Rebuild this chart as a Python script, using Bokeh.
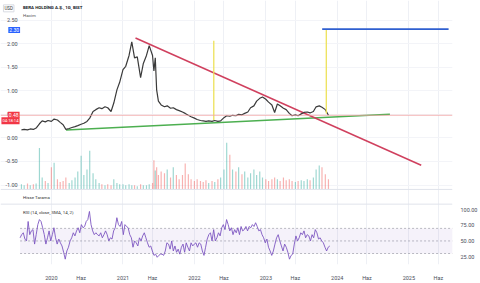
import pandas as pd
from bokeh.plotting import figure
from bokeh.models import (Range1d, LinearAxis, FixedTicker, CustomJSTickFormatter,
                          NumeralTickFormatter, Grid, Span, Label, ColumnDataSource,
                          BoxAnnotation)
from bokeh.core.properties import value
from bokeh.embed import file_html
from bokeh.resources import INLINE

# ---------------- data ----------------
price_dates = [
    "2019-08-01", "2019-08-15", "2019-09-01", "2019-09-15", "2019-10-01", "2019-10-15",
    "2019-11-01", "2019-11-15", "2019-12-01", "2019-12-15",
    "2020-01-01", "2020-01-15", "2020-02-01", "2020-02-15", "2020-03-01", "2020-03-15",
    "2020-04-01", "2020-04-15", "2020-05-01", "2020-05-15", "2020-06-01", "2020-06-15",
    "2020-07-01", "2020-07-15", "2020-08-01", "2020-08-15", "2020-09-01", "2020-09-15",
    "2020-10-01", "2020-10-15", "2020-11-01", "2020-11-15", "2020-12-01", "2020-12-15",
    "2021-01-01", "2021-01-15", "2021-02-01", "2021-02-15", "2021-03-01", "2021-03-15",
    "2021-04-01", "2021-04-15", "2021-05-01", "2021-05-15", "2021-06-01", "2021-06-08",
    "2021-06-15", "2021-06-22", "2021-07-01", "2021-07-15", "2021-08-01", "2021-08-15",
    "2021-09-01", "2021-09-15", "2021-10-01", "2021-10-15", "2021-11-01", "2021-11-15",
    "2021-12-01", "2021-12-15",
    "2022-01-01", "2022-01-15", "2022-02-01", "2022-02-15", "2022-03-01", "2022-03-15",
    "2022-04-01", "2022-04-15", "2022-05-01", "2022-05-15", "2022-06-01", "2022-06-15",
    "2022-07-01", "2022-07-15", "2022-08-01", "2022-08-15", "2022-09-01", "2022-09-15",
    "2022-10-01", "2022-10-15", "2022-11-01", "2022-11-15", "2022-12-01", "2022-12-15",
    "2023-01-01", "2023-01-15", "2023-02-01", "2023-02-15", "2023-03-01", "2023-03-15",
    "2023-04-01", "2023-04-15", "2023-05-01", "2023-05-15", "2023-06-01", "2023-06-15",
    "2023-07-01", "2023-07-15", "2023-08-01", "2023-08-15", "2023-09-01", "2023-09-15",
    "2023-10-01", "2023-10-15", "2023-11-01", "2023-11-17",
]
price_close = [
    0.17, 0.18, 0.17, 0.19, 0.18, 0.21, 0.30, 0.36, 0.34, 0.37,
    0.35, 0.40, 0.38, 0.33, 0.28, 0.18, 0.20, 0.22, 0.24, 0.26, 0.29, 0.31,
    0.35, 0.42, 0.56, 0.60, 0.64, 0.62, 0.66, 0.64, 0.56, 0.74, 1.02, 1.18,
    1.45, 1.52, 1.75, 2.04, 1.70, 1.72, 1.28, 1.58, 1.75, 1.96, 1.75, 1.42,
    1.70, 1.02, 0.78, 0.70, 0.66, 0.68, 0.63, 0.64, 0.60, 0.58, 0.55, 0.52,
    0.48, 0.45,
    0.42, 0.39, 0.37, 0.36, 0.35, 0.36, 0.35, 0.37, 0.35, 0.36, 0.43, 0.47,
    0.46, 0.48, 0.47, 0.50, 0.49, 0.52, 0.55, 0.64, 0.68, 0.78, 0.84, 0.87,
    0.82, 0.76, 0.70, 0.54, 0.72, 0.68, 0.63, 0.60, 0.52, 0.47, 0.49, 0.47,
    0.51, 0.54, 0.55, 0.53, 0.56, 0.66, 0.68, 0.65, 0.60, 0.48,
]
volume_m = [
    10, 8, 12, 8, 10, 12, 89, 25, 17, 13,
    47, 57, 21, 15, 17, 25, 13, 19, 25, 38, 72, 30, 42, 83, 34, 21, 13, 10, 8, 10, 8, 21, 13, 10,
    10, 8, 10, 8, 8, 6, 10, 8, 8, 10, 13, 62, 40, 47, 30, 38, 34, 42, 25, 47, 30, 21, 30, 55, 32, 21,
    17, 21, 17, 15, 19, 13, 17, 15, 21, 25, 42, 100, 74, 42, 38, 47, 32, 38, 25, 34, 42, 30, 38, 25,
    21, 17, 21, 25, 21, 17, 25, 19, 21, 17, 15, 17, 19, 17, 21, 19, 25, 42, 51, 47, 32, 21,
]
rsi_values = [
    55, 60, 63, 53, 50, 81, 60, 66, 68, 45, 60, 76, 84, 81, 71, 60, 45, 55, 66, 50,
    60, 71, 55, 45, 53, 47, 42, 32, 21, 34, 40, 50, 55, 63, 58, 66, 71, 63, 76, 71,
    73, 81, 84, 97, 76, 66, 60, 63, 60, 58, 63, 55, 60, 66, 60, 50, 55, 53, 66, 71,
    87, 76, 73, 81, 60, 76, 73, 71, 60, 55, 40, 50, 47, 42, 55, 50, 58, 63, 55, 47,
    40, 42, 34, 27, 29, 24, 27, 29, 29, 27, 34, 47, 45, 37, 50, 34, 42, 32, 37, 29,
    40, 45, 32, 47, 40, 34, 47, 42, 45, 47, 40, 47, 45, 34, 27, 40, 53, 60, 63, 50,
    68, 50, 55, 63, 58, 71, 76, 68, 84, 76, 66, 71, 60, 68, 63, 71, 60, 73, 66, 68,
    73, 66, 73, 71, 76, 73, 79, 73, 66, 68, 60, 55, 47, 53, 40, 34, 27, 34, 45, 55,
    60, 50, 42, 34, 45, 40, 32, 21, 27, 29, 45, 58, 50, 55, 63, 60, 66, 55, 60, 58,
    50, 60, 55, 68, 63, 53, 55, 50, 47, 40, 34, 40, 42,
]
rsi_first_date = "2019-07-25"
rsi_last_date = "2023-11-24"

red_trend_dates = ["2021-03-06", "2025-03-05"]
red_trend_values = [2.12, -0.58]
green_trend_dates = ["2020-03-16", "2024-09-26"]
green_trend_values = [0.17, 0.50]
yellow_dates = ["2022-04-10", "2023-11-06"]
yellow_low = [0.38, 0.52]
yellow_high = [2.06, 2.31]
target_dates = ["2023-10-16", "2025-07-23"]
target_values = [2.31, 2.31]
last_price = 0.48

price_ticks = [-1.0, -0.5, 0.0, 0.5, 1.0, 1.5, 2.0, 2.5]
price_tick_labels = ["-1.00", "-0.50", "0.00", "0.50", "1.00", "1.50", "2.00", "2.50"]
rsi_ticks = [25, 50, 75, 100]
rsi_levels = [30, 50, 70]
x_tick_dates = ["2020-01-01", "2020-06-01", "2021-01-01", "2021-06-01", "2022-01-01",
                "2022-06-01", "2023-01-01", "2023-06-01", "2024-01-01", "2024-06-01",
                "2025-01-01", "2025-06-01"]
x_tick_labels = ["2020", "Haz", "2021", "Haz", "2022", "Haz", "2023", "Haz", "2024",
                 "Haz", "2025", "Haz"]

# ---------------- layout ----------------
W, H = 480, 283
R, B = 18, 14          # right scale strip, bottom time scale
PANE_LEFT = 20         # left price scale strip width (inside the frame)
FONT = "Roboto"
DAY_MS = 86400000

pane_left = pd.Timestamp("2019-07-25")          # date at the left edge of the panes
x_end = pd.Timestamp("2025-08-12")
ms_per_px = (x_end - pane_left).value / 1e6 / (W - PANE_LEFT - R)
x1ms = x_end.value / 1e6
x0ms = pane_left.value / 1e6 - PANE_LEFT * ms_per_px

def px_x(px):
    return x0ms + px * ms_per_px

def py_y(py):
    return (140 - py) / 48.0

p = figure(width=W, height=H, x_axis_type=None, y_axis_type=None,
           output_backend="svg", toolbar_location=None,
           x_range=Range1d(x0ms, x1ms),
           y_range=Range1d(py_y(H - B), py_y(0)),
           min_border_left=0, min_border_right=R, min_border_top=0, min_border_bottom=B)
p.outline_line_color = None
p.background_fill_color = "white"
p.border_fill_color = "white"
p.extra_y_ranges = {
    "vol": Range1d(-(H - B - 192) / 0.47, 192 / 0.47),
    "rsi": Range1d(50 + (245 - (H - B)) / 0.64, 50 + 245 / 0.64),
}

tick_ms = [pd.Timestamp(d).value / 1e6 for d in x_tick_dates]
xaxis = LinearAxis(ticker=FixedTicker(ticks=tick_ms),
                   formatter=CustomJSTickFormatter(
                       args=dict(tvals=tick_ms, tlabels=x_tick_labels),
                       code="const i = tvals.indexOf(tick); return i >= 0 ? tlabels[i] : '';"))
raxis = LinearAxis(y_range_name="rsi", ticker=FixedTicker(ticks=rsi_ticks),
                   formatter=NumeralTickFormatter(format="0.00"))
for ax in (xaxis, raxis):
    ax.axis_line_color = None
    ax.major_tick_line_color = None
    ax.minor_tick_line_color = None
    ax.major_label_text_font = FONT
    ax.major_label_text_font_size = "5.5px"
    ax.major_label_text_color = "#4a4e5a"
xaxis.major_label_standoff = 4
raxis.major_label_standoff = 2
p.add_layout(xaxis, "below")
p.add_layout(raxis, "right")

p.add_layout(Grid(dimension=0, ticker=xaxis.ticker, grid_line_color="#eef0f5", grid_line_width=1))
p.add_layout(Grid(dimension=1, ticker=FixedTicker(ticks=price_ticks),
                  grid_line_color="#f3f4f8", grid_line_width=1))

# panel separators
for py in (192.5, 207.5):
    p.add_layout(Span(location=py_y(py), dimension="width", line_color="#e0e3eb", line_width=1))

# volume
pdates = pd.to_datetime(price_dates)
vol_colors = ["#26a69a" if i == 0 or price_close[i] >= price_close[i - 1] else "#ef5350"
              for i in range(len(price_close))]
vsrc = ColumnDataSource(dict(x=pdates, top=volume_m, color=vol_colors))
p.vbar(x="x", top="top", bottom=0, width=6 * DAY_MS, color="color", alpha=0.45,
       y_range_name="vol", source=vsrc, line_color=None)

# last price line
p.add_layout(Span(location=last_price, dimension="width", line_color="#f3a5a5",
                  line_width=1, line_alpha=0.8))

# trend lines
p.line(pd.to_datetime(green_trend_dates), green_trend_values, line_color="#4caf50", line_width=1.5)
p.line(pd.to_datetime(red_trend_dates), red_trend_values, line_color="#d0405e", line_width=1.5)

# price
p.line(pdates, price_close, line_color="#3a3a3a", line_width=1.2)

# yellow vertical markers and blue target
yd = pd.to_datetime(yellow_dates)
p.segment(x0=yd, y0=yellow_low, x1=yd, y1=yellow_high, line_color="#ede25a", line_width=1.3)
p.line(pd.to_datetime(target_dates), target_values, line_color="#2f5fd0", line_width=1.6)

# RSI pane
p.add_layout(BoxAnnotation(left=pane_left.value / 1e6, bottom=rsi_levels[0], top=rsi_levels[2],
                           y_range_name="rsi", fill_color="#7e57c2", fill_alpha=0.08,
                           line_color=None))
pl = [pane_left] * len(rsi_levels)
pr = [x_end] * len(rsi_levels)
p.segment(x0=pl, y0=rsi_levels, x1=pr, y1=rsi_levels, y_range_name="rsi",
          line_color="#9598a1", line_dash="2 2", line_width=0.8, line_alpha=0.8)
rdates = pd.date_range(rsi_first_date, rsi_last_date, periods=len(rsi_values))
p.line(rdates, rsi_values, y_range_name="rsi", line_color="#7e57c2", line_width=0.9)

# left price scale labels
p.text(x=[px_x(17.5)] * len(price_ticks), y=price_ticks, text=price_tick_labels,
       text_font=value(FONT), text_font_size="5.5px", text_color="#4a4e5a",
       text_align="right", text_baseline="middle")

# texts
def lab(px, py, text, size="4.8px", color="#131722", style="normal", align="left", **kw):
    p.add_layout(Label(x=px_x(px), y=py_y(py), text=text, text_font=FONT,
                       text_font_size=size, text_color=color, text_font_style=style,
                       text_align=align, text_baseline="middle", **kw))

lab(3, 8, "USD", size="4.5px", color="#333", border_line_color="#d8dbe3",
    background_fill_color="white", padding=1)
lab(23, 7, "BERA HOLDİNG A.Ş., 1G, BIST", size="4.4px", style="bold")
lab(23, 15, "Hacim", size="4.4px", color="#555")
lab(23, 201, "Hisse Tarama", size="4.4px", color="#333")
lab(23, 216, "RSI (14, close, SMA, 14, 2)", size="4.4px", color="#333")
lab(20, 30, "2.30", size="5px", color="white", align="right",
    background_fill_color="#2962ff", padding=1)
lab(19.5, 116.5, "0.48", size="5px", color="white", align="right",
    background_fill_color="#f23645", padding=1)
lab(19.5, 122.5, "04:18:14", size="4.2px", color="white", align="right",
    background_fill_color="#f23645", padding=1)

open("out.html", "w").write(file_html(p, INLINE))
